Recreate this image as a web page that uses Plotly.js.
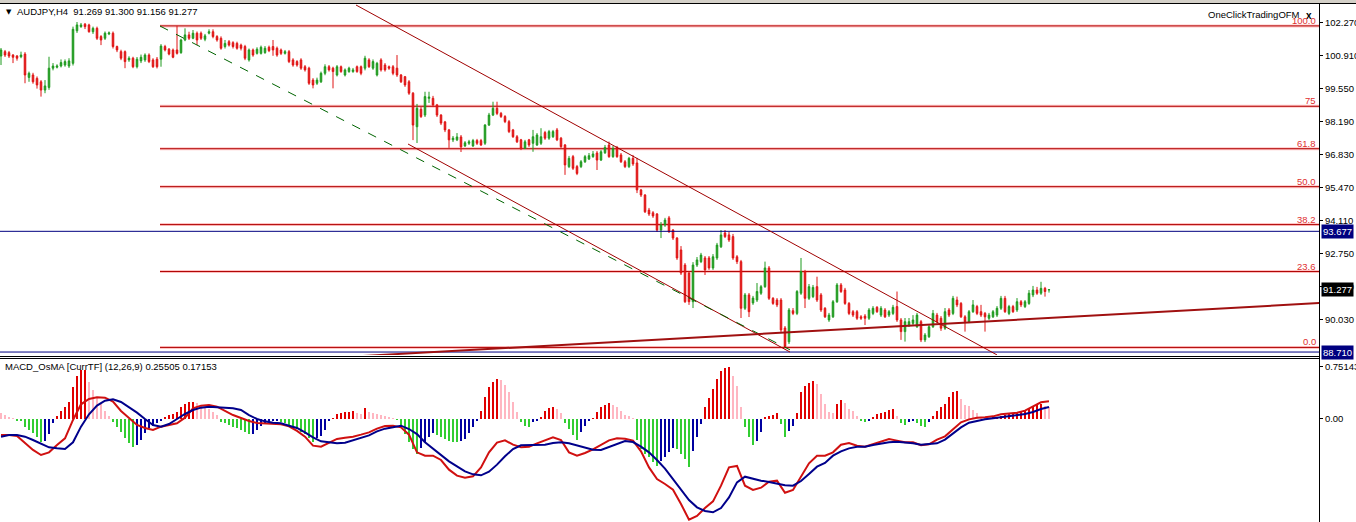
<!DOCTYPE html>
<html><head><meta charset="utf-8">
<script src="https://cdn.plot.ly/plotly-3.0.1.min.js"></script>
<style>html,body{margin:0;padding:0;background:#fff;overflow:hidden}#chart{width:1356px;height:522px}</style>
</head><body><div id="chart"></div>
<script>
// ---- price data (AUDJPY H4), one entry per bar ----
const opens = [100.89,101.07,101.03,100.93,100.89,100.86,100.97,100.01,100.11,99.97,
99.83,99.49,99.60,100.39,100.43,100.48,100.52,100.48,100.59,101.93,
102.10,102.20,102.17,101.89,102.03,101.69,101.62,101.80,101.83,101.28,
101.07,101.07,100.73,100.80,100.45,100.69,100.73,100.93,100.73,100.76,
100.76,101.28,101.17,101.14,101.14,101.03,101.55,101.76,101.62,101.83,
101.83,101.58,101.83,101.89,101.69,101.62,101.28,101.48,101.44,101.41,
101.34,101.28,100.73,101.14,101.00,101.00,101.03,101.25,101.28,101.21,
101.14,101.00,101.07,100.73,100.66,100.73,100.45,100.39,99.90,99.77,
99.83,100.18,100.45,100.39,100.11,100.45,100.11,100.25,100.25,100.45,
100.45,100.39,100.73,100.39,100.11,100.73,100.52,100.45,100.45,
100.39,100.11,100.04,99.83,99.36,97.98,98.70,98.46,99.15,99.15,
98.88,98.46,98.18,97.85,97.44,97.44,97.56,97.19,97.30,97.19,
97.41,97.41,97.30,98.05,98.46,98.74,98.53,98.40,98.19,97.85,
97.57,97.44,97.09,97.44,97.30,97.23,97.30,97.74,97.51,97.57,
97.85,97.51,97.23,96.34,96.75,96.34,96.34,96.54,96.65,96.75,
96.90,96.61,96.91,97.23,96.75,97.13,96.82,96.54,96.34,96.68,
96.49,95.38,95.17,94.55,94.44,94.39,93.73,93.94,94.23,93.73,
93.40,92.91,92.29,91.96,90.78,92.29,92.43,92.58,92.58,92.17,
92.58,93.04,93.61,93.53,93.46,92.63,92.43,90.51,91.06,90.73,
90.85,91.13,91.40,92.17,90.92,90.85,90.85,89.70,89.13,90.41,
90.30,91.13,92.02,90.92,90.99,91.40,91.06,90.51,90.03,90.16,
90.78,91.47,91.26,90.71,90.37,90.37,90.16,90.19,90.10,90.30,
90.55,90.23,90.44,90.23,90.30,90.58,90.03,89.55,89.82,89.89,
89.75,89.96,89.21,89.34,89.75,90.23,90.10,89.69,90.44,90.30,
90.85,90.71,90.16,89.96,90.37,90.58,90.37,90.30,90.10,90.16,
90.23,90.51,90.92,90.30,90.58,90.44,90.78,90.58,90.71,91.06,
91.26,91.13,91.33,91.269];
const highs = [101.22,101.14,101.10,100.97,100.93,101.07,101.05,100.25,100.20,100.05,
99.90,99.90,100.86,100.60,100.55,100.75,100.75,100.80,102.10,102.29,
102.25,102.25,102.22,102.10,102.10,101.75,101.90,101.90,101.90,101.32,
101.15,101.12,100.88,100.86,100.85,100.95,101.00,101.00,100.80,100.85,
101.38,101.35,101.22,101.20,102.13,101.60,102.03,101.89,101.96,101.90,
101.90,101.80,101.99,101.99,101.75,101.70,101.55,101.55,101.50,101.48,
101.40,101.35,101.20,101.20,101.25,101.32,101.30,101.32,101.55,101.28,
101.20,101.14,101.14,100.80,100.72,100.80,100.52,100.45,99.98,100.00,
100.25,100.55,100.52,100.45,100.52,100.50,100.38,100.45,100.40,100.50,
100.50,100.90,100.80,100.75,100.65,100.80,100.60,100.50,100.52,
100.93,100.15,100.07,99.90,99.41,98.92,98.79,99.42,99.42,99.25,
98.92,98.50,98.22,97.89,97.60,97.72,97.64,97.39,97.44,97.48,
97.48,97.48,98.09,98.55,99.01,99.01,98.59,98.46,98.26,97.89,
97.64,97.48,97.44,97.48,97.85,97.72,97.92,97.81,97.85,97.85,
97.93,97.56,97.27,96.78,96.82,96.41,96.61,96.82,96.90,96.98,
96.98,97.02,97.23,97.37,97.19,97.19,96.90,96.61,96.74,96.82,
96.70,95.42,95.21,94.64,94.51,94.43,94.06,94.23,94.31,93.77,
93.44,93.07,92.37,92.04,92.41,92.62,92.79,92.66,92.66,92.74,
93.20,93.73,93.73,93.65,93.57,92.70,92.50,91.14,91.14,91.02,
91.55,91.47,92.43,92.25,90.97,90.93,90.93,89.78,90.52,90.52,
91.26,92.58,92.09,91.51,91.47,91.81,91.14,90.56,90.32,90.85,
91.55,91.55,91.35,90.77,90.44,90.44,90.23,90.27,90.52,90.60,
90.60,90.60,90.52,90.44,90.65,91.20,90.11,90.11,90.11,90.23,
90.32,90.03,89.49,89.82,90.44,90.32,90.19,90.52,90.52,91.02,
90.99,90.77,90.23,90.44,90.85,90.65,90.65,90.36,90.32,90.44,
90.60,91.02,91.02,90.65,90.65,90.93,90.85,90.85,91.26,91.43,
91.39,91.60,91.39,91.30];
const lows = [100.52,100.85,100.81,100.60,100.70,100.80,99.77,99.83,99.75,99.55,
99.22,99.36,99.50,100.30,100.38,100.42,100.45,100.40,100.50,101.84,
102.05,102.00,101.85,101.80,101.55,101.34,101.55,101.75,101.20,101.05,
100.72,100.39,100.65,100.39,100.38,100.60,100.65,100.60,100.40,100.38,
100.45,101.08,100.92,100.80,100.95,100.98,101.50,101.55,101.58,101.34,
101.55,101.50,101.78,101.62,101.48,101.15,101.20,101.28,101.20,101.15,
101.12,100.72,100.66,100.86,100.95,100.95,100.98,101.05,100.90,100.86,
100.93,100.95,100.60,100.45,100.45,100.32,100.25,99.70,99.56,99.70,
99.78,100.10,100.25,99.56,100.05,100.20,100.05,100.20,100.20,100.20,
100.10,100.30,100.40,100.32,100.05,100.25,100.25,100.32,100.10,
100.03,99.78,99.62,99.29,97.43,97.31,98.34,98.38,98.96,98.79,
98.38,98.05,97.76,97.11,97.35,97.39,96.94,97.15,97.23,97.15,
97.23,97.19,97.23,98.01,98.42,98.46,98.34,98.13,97.72,97.52,
97.31,97.02,97.06,97.15,96.95,97.19,97.23,97.44,97.44,97.52,
97.39,97.11,96.00,96.28,96.20,95.99,96.28,96.49,96.61,96.70,
96.20,96.57,96.86,96.70,96.70,96.70,96.49,96.28,96.28,96.37,
95.25,95.09,94.43,94.31,94.23,93.65,93.40,93.86,93.61,93.32,
92.50,91.88,90.73,90.65,90.52,92.21,92.37,91.88,92.09,92.09,
92.50,92.99,93.40,93.24,92.50,92.33,90.11,90.44,90.15,90.65,
90.77,91.06,91.35,90.85,90.65,90.56,89.49,88.88,89.04,90.23,
90.23,91.06,90.52,90.85,90.93,90.77,90.36,90.11,89.95,90.11,
90.73,91.14,90.65,90.23,90.15,90.03,90.03,89.82,90.03,90.23,
90.32,90.15,90.11,90.15,90.23,89.95,89.21,89.14,89.74,89.82,
89.70,89.12,89.12,89.29,89.70,89.90,89.58,89.62,90.15,90.23,
90.56,90.11,89.55,89.90,90.32,90.23,90.15,89.55,90.03,90.11,
90.15,90.44,90.32,90.23,90.32,90.36,90.56,90.52,90.65,90.97,
91.06,91.06,90.99,91.156];
const closes = [101.14,100.93,100.89,100.84,100.80,100.93,100.11,100.18,99.83,99.70,
99.49,99.66,100.39,100.48,100.48,100.62,100.66,100.69,101.99,102.17,
102.17,102.10,101.89,102.03,101.62,101.55,101.83,101.84,101.28,101.14,
100.80,100.66,100.80,100.45,100.76,100.84,100.93,100.66,100.45,100.45,
101.30,101.14,100.97,100.84,101.00,101.55,101.76,101.62,101.83,101.55,
101.62,101.72,101.89,101.69,101.55,101.21,101.41,101.34,101.28,101.21,
101.21,100.80,101.14,100.93,101.17,101.25,101.21,101.11,101.14,100.93,
101.00,101.07,100.66,100.52,100.52,100.39,100.32,99.77,99.70,99.90,
100.18,100.45,100.32,100.25,100.45,100.25,100.32,100.39,100.32,100.25,
100.18,100.80,100.45,100.66,100.59,100.32,100.32,100.39,100.18,
100.11,99.83,99.70,99.36,98.05,98.74,98.40,99.22,99.20,98.88,
98.46,98.13,97.85,97.44,97.51,97.56,97.15,97.32,97.36,97.41,
97.30,97.23,98.05,98.46,98.74,98.53,98.40,98.19,97.78,97.57,
97.36,97.09,97.36,97.23,97.57,97.64,97.57,97.51,97.78,97.78,
97.44,97.16,96.41,96.68,96.27,96.06,96.54,96.75,96.79,96.86,
96.61,96.95,97.13,96.75,97.09,96.75,96.54,96.34,96.68,96.45,
95.38,95.17,94.48,94.39,94.31,93.73,93.94,94.14,93.66,93.40,
92.58,91.96,90.78,90.78,92.29,92.50,92.70,92.09,92.17,92.63,
93.11,93.53,93.46,93.32,92.58,92.43,90.51,91.06,90.37,90.93,
91.20,91.40,92.17,90.92,90.71,90.65,89.62,88.93,90.44,90.30,
91.20,92.02,90.92,91.40,91.37,90.85,90.44,90.16,90.23,90.78,
91.47,91.20,90.71,90.30,90.23,90.10,90.10,90.10,90.44,90.51,
90.37,90.51,90.16,90.37,90.55,90.03,89.55,89.96,89.96,90.03,
90.23,89.21,89.41,89.75,90.30,89.96,89.69,90.37,90.23,90.92,
90.65,90.16,89.96,90.37,90.65,90.30,90.23,90.16,90.23,90.37,
90.51,90.92,90.37,90.58,90.37,90.78,90.65,90.78,91.13,91.26,
91.13,91.33,91.20,91.277];

// ---- MACD_OsMA panel ----
const osma = [0.081,0.057,0.034,0.010,-0.029,-0.030,-0.110,-0.158,-0.206,-0.254,
-0.330,-0.320,-0.220,-0.060,0.048,0.115,0.177,0.249,0.465,0.623,
0.704,0.710,0.536,0.417,0.321,0.211,0.115,0.043,-0.038,-0.110,
-0.192,-0.278,-0.350,-0.398,-0.374,-0.302,-0.206,-0.125,-0.096,-0.062,
-0.029,0.034,0.057,0.077,0.105,0.177,0.211,0.240,0.249,0.225,
0.201,0.177,0.144,0.105,0.057,-0.038,-0.062,-0.086,-0.110,-0.134,
-0.158,-0.182,-0.220,-0.211,-0.158,-0.096,-0.062,-0.038,-0.029,-0.024,
-0.038,-0.062,-0.086,-0.110,-0.144,-0.182,-0.220,-0.268,-0.335,-0.278,
-0.240,-0.158,-0.029,0.019,0.067,0.081,0.096,0.105,0.115,0.081,
0.077,0.153,0.096,0.081,0.072,0.057,0.048,0.034,0.019,-0.019,
-0.120,-0.216,-0.335,-0.431,-0.503,-0.417,-0.335,-0.263,-0.206,-0.225,
-0.254,-0.287,-0.311,-0.326,-0.335,-0.321,-0.287,-0.206,-0.120,-0.034,
0.120,0.311,0.455,0.527,0.570,0.560,0.493,0.383,0.240,0.096,
-0.048,-0.096,-0.120,-0.048,-0.024,0.024,0.110,0.158,0.177,0.144,
0.081,-0.062,-0.144,-0.225,-0.302,-0.192,-0.096,-0.034,0.014,0.096,
0.168,0.206,0.225,0.206,0.168,0.120,0.062,0.043,0.014,-0.300,
-0.431,-0.503,-0.551,-0.623,-0.671,-0.599,-0.541,-0.479,-0.417,-0.431,
-0.503,-0.575,-0.685,-0.455,-0.263,-0.072,0.168,0.302,0.431,0.575,
0.685,0.728,0.752,0.623,0.479,0.168,-0.120,-0.254,-0.369,-0.311,
-0.192,0.034,0.048,0.062,0.081,-0.072,-0.254,-0.177,-0.096,0.081,
0.383,0.479,0.513,0.541,0.503,0.359,0.216,0.096,0.081,0.216,
0.273,0.225,0.144,0.120,0.048,-0.034,-0.048,-0.024,0.024,0.072,
0.081,0.096,0.129,0.144,0.048,-0.062,-0.081,-0.048,-0.024,-0.062,
-0.096,-0.120,-0.048,0.048,0.120,0.168,0.216,0.321,0.383,0.407,
0.287,0.206,0.192,0.129,0.081,0.034,0.014,0.005,0.024,0.034,
0.048,0.062,0.072,0.081,0.096,0.110,0.129,0.158,0.177,0.206,
0.216,0.192,0.168];
const lineBars = [0,2,4,6,8,10,12,14,16,18,20,22,24,26,28,30,32,34,36,38,40,42,44,46,48,50,52,54,56,58,
60,62,64,66,68,70,72,74,76,78,80,82,84,86,88,90,92,94,96,98,100,102,104,106,108,110,112,114,116,118,
120,122,124,126,128,130,132,134,136,138,140,142,144,146,148,150,152,154,156,158,160,162,164,166,168,170,
172,174,176,178,180,182,184,186,188,190,192,194,196,198,200,202,204,206,208,210,212,214,216,218,220,
222,224,226,228,230,232,234,236,238,240,242,244,246,248,250,252,254,256,258,260,262];
const macdMain = [-0.230,-0.230,-0.244,-0.350,-0.445,-0.517,-0.479,-0.374,-0.278,-0.014,
0.211,0.287,0.311,0.307,0.249,0.115,0.010,-0.086,-0.129,-0.158,
-0.110,-0.091,-0.062,0.019,0.153,0.192,0.201,0.177,0.115,0.057,
0.014,-0.029,-0.057,-0.062,-0.062,-0.077,-0.105,-0.172,-0.254,-0.383,
-0.398,-0.340,-0.287,-0.268,-0.254,-0.225,-0.192,-0.139,-0.101,-0.096,
-0.120,-0.225,-0.479,-0.527,-0.527,-0.589,-0.728,-0.814,-0.843,-0.824,
-0.695,-0.479,-0.340,-0.307,-0.369,-0.407,-0.398,-0.350,-0.302,-0.263,
-0.302,-0.479,-0.527,-0.489,-0.436,-0.369,-0.307,-0.278,-0.283,-0.311,
-0.465,-0.695,-0.862,-0.934,-1.015,-1.221,-1.447,-1.394,-1.279,-1.183,
-0.958,-0.695,-0.675,-0.958,-1.020,-0.987,-0.901,-0.886,-1.059,-1.020,
-0.838,-0.637,-0.527,-0.527,-0.479,-0.369,-0.345,-0.383,-0.398,-0.364,
-0.331,-0.287,-0.311,-0.335,-0.335,-0.378,-0.364,-0.297,-0.249,-0.144,
-0.048,-0.005,0.019,0.024,0.038,0.067,0.077,0.091,0.120,0.177,
0.240,0.255];
const macdSignal = [-0.254,-0.230,-0.230,-0.254,-0.302,-0.359,-0.407,-0.422,-0.431,-0.335,
-0.110,0.067,0.192,0.263,0.283,0.244,0.172,0.091,0.000,-0.086,
-0.110,-0.072,0.000,0.072,0.129,0.163,0.177,0.172,0.163,0.153,
0.129,0.057,0.000,-0.034,-0.053,-0.062,-0.096,-0.129,-0.192,-0.263,
-0.321,-0.340,-0.350,-0.340,-0.302,-0.273,-0.235,-0.177,-0.139,-0.120,
-0.096,-0.144,-0.216,-0.335,-0.422,-0.513,-0.608,-0.680,-0.752,-0.795,
-0.809,-0.757,-0.656,-0.536,-0.431,-0.378,-0.374,-0.378,-0.369,-0.345,
-0.335,-0.350,-0.383,-0.407,-0.441,-0.445,-0.402,-0.354,-0.316,-0.331,
-0.398,-0.479,-0.589,-0.714,-0.867,-1.020,-1.164,-1.269,-1.322,-1.341,
-1.279,-1.126,-0.910,-0.829,-0.862,-0.886,-0.905,-0.929,-0.953,-0.958,
-0.891,-0.790,-0.685,-0.632,-0.527,-0.465,-0.422,-0.398,-0.398,-0.374,
-0.350,-0.335,-0.326,-0.335,-0.350,-0.369,-0.359,-0.350,-0.297,-0.206,
-0.120,-0.053,-0.024,-0.005,0.010,0.024,0.038,0.057,0.072,0.101,
0.144,0.1715];

// ---- chart objects ----
const fibLow = 88.90, fibHigh = 102.13, fibStartBar = 39.75;
const fibLevels = [0, 23.6, 38.2, 50, 61.8, 75, 100];
const fibLabels = ['0.0','23.6','38.2','50.0','61.8','75','100.0'];
const hLinePrices = [93.677, 88.710];
// trend lines: [bar0, price0, bar1, price1]
const channelUpper = [88.75, 102.99, 249.0, 88.59];
const channelLower = [101.75, 97.27, 197.25, 88.71];
const dashedLine = [39.75, 102.125, 197.25, 88.80];
const risingLine = [90.5, 88.55, 330.0, 90.73];
const priceTicks = [102.270, 100.910, 99.550, 98.190, 96.830, 95.470, 94.110, 92.750, 91.390, 90.030];
const macdTicks = [0.75143, 0];
const macdTickText = ['0.75143', '0.00'];
const lastPrice = 91.277;
const headerText = 'AUDJPY,H4  91.269 91.300 91.156 91.277';
const macdText = 'MACD_OsMA [CurrTF] (12,26,9) 0.25505 0.17153';

// ---- build ----
const W = 1356, H = 522, PX = 1319;
const FONT = 'Liberation Sans, Arial, DejaVu Sans, sans-serif';
const bars = opens.map((_, i) => i);
const py = v => (H - v) / H;

const histColors = osma.map((v, i) => {
  const p = i > 0 ? osma[i - 1] : Infinity;
  if (v >= 0) return v >= p ? '#e00000' : '#ffb6c1';
  return v <= p ? '#32cd32' : '#0000a0';
});

const traces = [
  {type: 'candlestick', x: bars, open: opens, high: highs, low: lows, close: closes,
   xaxis: 'x', yaxis: 'y', hoverinfo: 'skip', whiskerwidth: 0,
   increasing: {line: {color: '#1f9a1f', width: 1}, fillcolor: '#1f9a1f'},
   decreasing: {line: {color: '#e01414', width: 1}, fillcolor: '#e01414'}},
  {type: 'bar', x: bars, y: osma, xaxis: 'x2', yaxis: 'y2', width: 0.72,
   marker: {color: histColors, line: {width: 0}}, hoverinfo: 'skip'},
  {type: 'scatter', mode: 'lines', x: lineBars, y: macdMain, xaxis: 'x2', yaxis: 'y2',
   line: {color: '#d01010', width: 2}, hoverinfo: 'skip'},
  {type: 'scatter', mode: 'lines', x: lineBars, y: macdSignal, xaxis: 'x2', yaxis: 'y2',
   line: {color: '#00008b', width: 2}, hoverinfo: 'skip'}
];

const shapes = [];
fibLevels.forEach(l => {
  const p = fibLow + (fibHigh - fibLow) * l / 100;
  shapes.push({type: 'line', xref: 'x', yref: 'y', x0: fibStartBar, x1: 330, y0: p, y1: p,
    line: {color: 'rgba(255,90,90,0.35)', width: 3}, layer: 'below'});
  shapes.push({type: 'line', xref: 'x', yref: 'y', x0: fibStartBar, x1: 330, y0: p, y1: p,
    line: {color: '#b00000', width: 1}, layer: 'below'});
});
hLinePrices.forEach(p => shapes.push({type: 'line', xref: 'x', yref: 'y', x0: -1, x1: 330, y0: p, y1: p,
  line: {color: '#000080', width: 1}}));
[channelUpper, channelLower].forEach(t => shapes.push({type: 'line', xref: 'x', yref: 'y',
  x0: t[0], y0: t[1], x1: t[2], y1: t[3], line: {color: '#a00000', width: 1}}));
shapes.push({type: 'line', xref: 'x', yref: 'y', x0: dashedLine[0], y0: dashedLine[1], x1: dashedLine[2], y1: dashedLine[3],
  line: {color: '#006400', width: 1, dash: 'dash'}});
shapes.push({type: 'line', xref: 'x', yref: 'y', x0: risingLine[0], y0: risingLine[1], x1: risingLine[2], y1: risingLine[3],
  line: {color: '#a01010', width: 2}});
// frame
shapes.push({type: 'rect', xref: 'paper', yref: 'paper', x0: 0, x1: 1, y0: py(3), y1: 1, fillcolor: '#d4d0c8', line: {width: 0}});
shapes.push({type: 'line', xref: 'paper', yref: 'paper', x0: 0, x1: 1, y0: py(3.5), y1: py(3.5), line: {color: '#000', width: 1}});
shapes.push({type: 'line', xref: 'paper', yref: 'paper', x0: (PX + 0.5) / W, x1: (PX + 0.5) / W, y0: 0, y1: py(3.5), line: {color: '#000', width: 1}});
shapes.push({type: 'line', xref: 'paper', yref: 'paper', x0: 0, x1: (PX + 0.5) / W, y0: py(356.5), y1: py(356.5), line: {color: '#000', width: 1}});
shapes.push({type: 'line', xref: 'paper', yref: 'paper', x0: 0, x1: (PX + 0.5) / W, y0: py(358.5), y1: py(358.5), line: {color: '#000', width: 1}});

const annotations = [];
annotations.push({xref: 'paper', yref: 'paper', x: 4 / W, y: py(12), xanchor: 'left', yanchor: 'middle', showarrow: false,
  text: '▼', font: {family: 'DejaVu Sans', size: 7, color: '#000'}});
annotations.push({xref: 'paper', yref: 'paper', x: 15 / W, y: py(12), xanchor: 'left', yanchor: 'middle', showarrow: false,
  text: headerText, font: {family: FONT, size: 9.5, color: '#000'}});
annotations.push({xref: 'paper', yref: 'paper', x: 1302 / W, y: py(14), xanchor: 'right', yanchor: 'middle', showarrow: false,
  text: 'OneClickTradingOFM', font: {family: FONT, size: 9.5, color: '#000'}});
annotations.push({xref: 'paper', yref: 'paper', x: 1304 / W, y: py(15), xanchor: 'left', yanchor: 'middle', showarrow: false,
  text: '<b>x</b>', font: {family: FONT, size: 10, color: '#000'}});
annotations.push({xref: 'paper', yref: 'paper', x: 3 / W, y: py(367), xanchor: 'left', yanchor: 'middle', showarrow: false,
  text: macdText, font: {family: FONT, size: 9.5, color: '#000'}});
fibLevels.forEach((l, i) => {
  const p = fibLow + (fibHigh - fibLow) * l / 100;
  annotations.push({xref: 'paper', yref: 'y', x: (PX - 1) / W, y: p, xanchor: 'right', yanchor: 'bottom', showarrow: false,
    text: fibLabels[i], font: {family: FONT, size: 9.5, color: '#e03030'}, yshift: -2});
});
const boxes = [[93.677, '#000080'], [lastPrice, '#000000'], [88.710, '#000080']];
boxes.forEach(b => annotations.push({xref: 'paper', yref: 'y', x: (PX + 1.5) / W, y: b[0], xanchor: 'left', yanchor: 'middle',
  showarrow: false, text: b[0].toFixed(3), bgcolor: b[1], borderpad: 1, font: {family: FONT, size: 9.5, color: '#fff'}}));

const axX = {domain: [0, PX / W], range: [-0.25, 329.5], showticklabels: false, showgrid: false, zeroline: false,
  showline: false, ticks: '', fixedrange: true};
const tickFont = {family: FONT, size: 9.5, color: '#000'};
const layout = {
  width: W, height: H, margin: {l: 0, r: 0, t: 0, b: 0}, paper_bgcolor: '#fff', plot_bgcolor: '#fff',
  showlegend: false, boxgap: 0.45, bargap: 0,
  xaxis: Object.assign({}, axX, {anchor: 'y', rangeslider: {visible: false}}),
  xaxis2: Object.assign({}, axX, {anchor: 'y2'}),
  yaxis: {domain: [py(355), py(4)], range: [88.588, 103.031], side: 'right', anchor: 'x',
    tickvals: priceTicks, ticktext: priceTicks.map(v => v.toFixed(3)), ticks: 'outside', ticklen: 3,
    tickcolor: '#000', tickfont: tickFont, showgrid: false, zeroline: false, showline: false, fixedrange: true},
  yaxis2: {domain: [0, py(359)], range: [-1.480, 0.862], side: 'right', anchor: 'x2',
    tickvals: macdTicks, ticktext: macdTickText, ticks: 'outside', ticklen: 3, tickcolor: '#000',
    tickfont: tickFont, showgrid: false, zeroline: false, showline: false, fixedrange: true},
  shapes: shapes, annotations: annotations
};
Plotly.newPlot('chart', traces, layout, {staticPlot: true, displayModeBar: false});
</script></body></html>
